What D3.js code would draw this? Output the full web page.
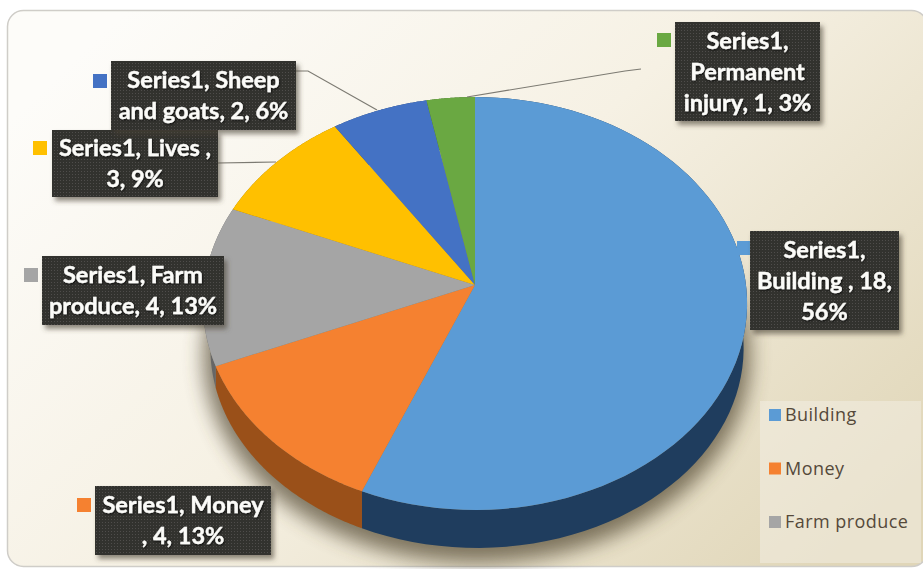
<!DOCTYPE html>
<html lang="en">
<head>
<meta charset="UTF-8">
<title>Pie chart</title>
<script src="https://d3js.org/d3.v7.min.js"></script>
<style>
    html, body { margin: 0; padding: 0; background: #fff; }
    svg { display: block; }
    .lbl { font-family: Lato, sans-serif; font-weight: 700; font-size: 23.5px; fill: #fbfbf8; stroke: #fbfbf8; stroke-width: 0.35px; text-anchor: middle; }
    .leg { font-family: "Open Sans", sans-serif; font-size: 18px; letter-spacing: 0.45px; fill: #55493a; }
</style>
</head>
<body>
<svg width="923" height="569"></svg>
<script>
    // data
    const categories = ["Building", "Money", "Farm produce", "Lives", "Sheep and goats", "Permanent injury"];
    const values = [18, 4, 4, 3, 2, 1];
    const colors = ["#5b9bd5", "#f58130", "#a5a5a5", "#ffc000", "#4472c4", "#6aa842"];
    const sideColors = ["#1f3d5e", "#9a5019", "#666666", "#997300", "#294474", "#3f6528"];
    const legendItems = ["Building", "Money", "Farm produce"];
    const labelLines = [
        ["Series1,", "Building , 18,", "56%"],
        ["Series1, Money", ", 4, 13%"],
        ["Series1, Farm", "produce, 4, 13%"],
        ["Series1, Lives ,", "3, 9%"],
        ["Series1, Sheep", "and goats, 2, 6%"],
        ["Series1,", "Permanent", "injury, 1, 3%"]
    ];

    // layout
    const labelBoxes = [
        { x: 750, y: 231, w: 149, h: 99, sx: 737, sy: 241 },
        { x: 95, y: 486, w: 176, h: 69, sx: 77, sy: 498 },
        { x: 42, y: 256, w: 182, h: 69, sx: 24, sy: 268 },
        { x: 52, y: 130, w: 166, h: 67, sx: 33, sy: 141 },
        { x: 111, y: 61, w: 185, h: 69, sx: 93, sy: 74 },
        { x: 675, y: 22, w: 145, h: 99, sx: 657, sy: 33 }
    ];
    const leaders = [
        [[296, 71], [308, 71], [377, 110]],
        [[218, 163], [276, 162]],
        [[641, 69], [625, 71], [467, 97]]
    ];

    const svg = d3.select("svg");
    const defs = svg.append("defs");

    const bg = defs.append("linearGradient").attr("id", "bg")
        .attr("x1", "0%").attr("y1", "20%").attr("x2", "100%").attr("y2", "85%");
    bg.append("stop").attr("offset", "0%").attr("stop-color", "#fdfcf9");
    bg.append("stop").attr("offset", "45%").attr("stop-color", "#f6f1e4");
    bg.append("stop").attr("offset", "100%").attr("stop-color", "#e0d6b8");

    const blur = defs.append("filter").attr("id", "blur")
        .attr("x", "-20%").attr("y", "-20%").attr("width", "140%").attr("height", "140%");
    blur.append("feGaussianBlur").attr("stdDeviation", 10);

    const boxShadow = defs.append("filter").attr("id", "boxShadow")
        .attr("x", "-10%").attr("y", "-10%").attr("width", "125%").attr("height", "130%");
    boxShadow.append("feDropShadow").attr("dx", 3).attr("dy", 4).attr("stdDeviation", 2.5)
        .attr("flood-color", "#4a4030").attr("flood-opacity", 0.6);

    const textShadow = defs.append("filter").attr("id", "textShadow")
        .attr("x", "-5%").attr("y", "-20%").attr("width", "110%").attr("height", "140%");
    textShadow.append("feDropShadow").attr("dx", 0.6).attr("dy", 1).attr("stdDeviation", 0.8)
        .attr("flood-color", "#000").attr("flood-opacity", 0.8);

    const dots = defs.append("pattern").attr("id", "dots")
        .attr("width", 3).attr("height", 3).attr("patternUnits", "userSpaceOnUse");
    dots.append("rect").attr("width", 3).attr("height", 3).attr("fill", "#33312f");
    dots.append("rect").attr("width", 1).attr("height", 1).attr("fill", "#504e4b");

    // chart area
    svg.append("rect")
        .attr("x", 7.5).attr("y", 10.5).attr("width", 920).attr("height", 556).attr("rx", 16)
        .attr("fill", "url(#bg)").attr("stroke", "#cfcdc8").attr("stroke-width", 1.5);

    // tilted pie: both faces are circles seen in perspective
    const topFace = { cx: 475, cy: 285, radius: 271, tilt: 204.8, persp: 0.0896 };
    const lowFace = { cx: 477, cy: 320, radius: 264, tilt: 196, persp: 0.14 };
    const pie = d3.pie().sort(null).startAngle(0).endAngle(2 * Math.PI);
    const arcs = pie(values);

    function rim(a, f) {
        const s = 1 / (1 + f.persp * Math.cos(a));
        return [f.cx + f.radius * Math.sin(a) * s, f.cy - f.tilt * Math.cos(a) * s];
    }
    function rimPoints(d, f) {
        return d3.range(0, 81).map(i => rim(d.startAngle + (d.endAngle - d.startAngle) * i / 80, f));
    }
    // wall edges drop straight down: find the lower rim angle under a top rim angle
    function lowAngle(a) {
        if (a <= Math.PI || a >= 1.5 * Math.PI) return a;
        const x = rim(a, topFace)[0];
        let lo = Math.PI, hi = 1.5 * Math.PI;
        for (let i = 0; i < 30; i++) {
            const mid = (lo + hi) / 2;
            if (rim(mid, lowFace)[0] > x) lo = mid; else hi = mid;
        }
        return lo;
    }
    function wallPoints(d) {
        const low = { startAngle: lowAngle(d.startAngle), endAngle: lowAngle(d.endAngle) };
        return rimPoints(d, topFace).concat(rimPoints(low, lowFace).reverse());
    }
    const line = d3.line();

    const whole = { startAngle: 0, endAngle: 2 * Math.PI };
    svg.append("path")
        .attr("d", line(rimPoints(whole, lowFace)) + "Z")
        .attr("transform", "translate(0,8)")
        .attr("fill", "#4f452f").attr("stroke", "#4f452f").attr("stroke-width", 14)
        .attr("opacity", 0.7).attr("filter", "url(#blur)");

    const pieG = svg.append("g");
    pieG.selectAll("path.side").data(arcs).enter().append("path")
        .attr("class", "side")
        .attr("fill", (d, i) => sideColors[i])
        .attr("d", d => line(wallPoints(d)) + "Z");
    pieG.selectAll("path.top").data(arcs).enter().append("path")
        .attr("class", "top")
        .attr("fill", (d, i) => colors[i])
        .attr("d", d => line(rimPoints(d, topFace).concat([[topFace.cx, topFace.cy]])) + "Z");

    // legend
    svg.append("rect")
        .attr("x", 760).attr("y", 401).attr("width", 161).attr("height", 162)
        .attr("fill", "#f3efe6").attr("opacity", 0.5);
    const legend = svg.selectAll("g.legend").data(legendItems).enter().append("g")
        .attr("class", "legend")
        .attr("transform", (d, i) => `translate(769,${409 + i * 53.5})`);
    legend.append("rect").attr("width", 12).attr("height", 12)
        .attr("fill", d => colors[categories.indexOf(d)]);
    legend.append("text").attr("class", "leg").attr("x", 16).attr("y", 12).text(d => d);

    // leader lines
    svg.selectAll("path.leader").data(leaders).enter().append("path")
        .attr("class", "leader")
        .attr("d", d => line(d))
        .attr("fill", "none").attr("stroke", "#7c7a72").attr("stroke-width", 1.2);

    // data labels
    const labels = svg.selectAll("g.label").data(categories).enter().append("g").attr("class", "label");
    labels.append("rect")
        .attr("x", (d, i) => labelBoxes[i].sx).attr("y", (d, i) => labelBoxes[i].sy)
        .attr("width", 14).attr("height", 14)
        .attr("fill", (d, i) => colors[i]);
    labels.append("rect")
        .attr("x", (d, i) => labelBoxes[i].x).attr("y", (d, i) => labelBoxes[i].y)
        .attr("width", (d, i) => labelBoxes[i].w).attr("height", (d, i) => labelBoxes[i].h)
        .attr("fill", "url(#dots)").attr("filter", "url(#boxShadow)");
    labels.each(function(d, i) {
        const b = labelBoxes[i], n = labelLines[i].length;
        d3.select(this).selectAll("text").data(labelLines[i]).enter().append("text")
            .attr("class", "lbl")
            .attr("filter", "url(#textShadow)")
            .attr("x", b.x + b.w / 2)
            .attr("y", (t, j) => b.y + b.h / 2 + (j - (n - 1) / 2) * 31 + 8)
            .text(t => t);
    });
</script>
</body>
</html>
